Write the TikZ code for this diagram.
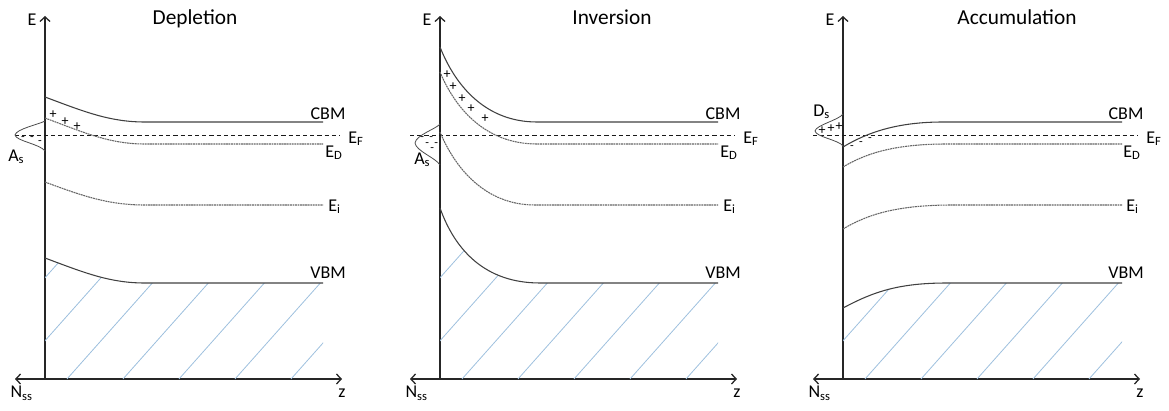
\documentclass[tikz,border=0pt]{standalone}
\usepackage{fontspec}
\setmainfont{Carlito}
\usepackage{tikz}
\usetikzlibrary{arrows.meta,positioning}
\definecolor{hatchblue}{RGB}{158,192,222}

\begin{document}
\begin{tikzpicture}[
  x=0.75pt, y=-0.75pt,
  font=\fontsize{13.5}{15}\selectfont,
  axisln/.style={line width=0.95pt, black!85},
  axarr/.style={-{Straight Barb[length=3.5pt,width=7.5pt]}},
  axboth/.style={{Straight Barb[length=3.5pt,width=7.5pt]}-{Straight Barb[length=3.5pt,width=7.5pt]}},
  band/.style={line width=0.8pt, black!75},
  dotlev/.style={line width=0.8pt, black!60, dash pattern=on 1.4pt off 0.5pt},
  fermi/.style={line width=0.75pt, black!90, dash pattern=on 3.2pt off 2.2pt},
  gauss/.style={line width=0.6pt, black!70},
  hatchln/.style={line width=0.6pt, hatchblue},
  lbl/.style={inner sep=0pt, anchor=base west},
  lblc/.style={inner sep=0pt, anchor=base},
  chg/.style={inner sep=0pt, font=\fontsize{10.5}{11}\selectfont},
  minus/.style={inner sep=0pt, font=\fontsize{9}{10}\selectfont},
  ttl/.style={inner sep=0pt, anchor=base, font=\fontsize{16}{18}\selectfont}
]
\useasboundingbox (0,0) rectangle (1169,410);

% axes, Fermi level and labels (same in all three panels)
\foreach \ax/\nm/\ttxt/\tx in {45/dep/Depletion/150, 440/inv/Inversion/172, 843/acc/Accumulation/174}{
  \coordinate (o-\nm) at (\ax,379);
  \coordinate (top-\nm) at (\ax,16);
  \coordinate (l-\nm) at (\ax-30,379);
  \coordinate (r-\nm) at (\ax+297,379);
  \draw[axisln, axarr] (o-\nm) -- (top-\nm);
  \draw[axisln, axboth] (l-\nm) -- (r-\nm);
  \node[left=3pt of top-\nm, yshift=-3pt] (e-\nm) {E};
  \node[below=2pt of l-\nm, xshift=5pt] (nss-\nm) {N\textsubscript{ss}};
  \node[below=4pt of r-\nm] (z-\nm) {z};
  \node[ttl] (ttl-\nm) at (\ax+\tx,25) {\ttxt};
  \draw[fermi] (\ax-30,135) -- (\ax+295,135);
  \node[lblc] (cbm-\nm) at (\ax+283,119) {CBM};
  \node[lbl] (ef-\nm) at (\ax+303,143) {E\textsubscript{F}};
  \node[lbl] (ed-\nm) at (\ax+280,157) {E\textsubscript{D}};
  \node[lbl] (ei-\nm) at (\ax+283,211) {E\textsubscript{i}};
  \node[lblc] (vbm-\nm) at (\ax+283,278) {VBM};
}

% depletion
\begin{scope}[shift={(45,0)}]
  \begin{scope}
    \clip (0,258) .. controls (40,273) and (65,283) .. (100,283) -- (278,283) |- (0,379) -- cycle;
    \foreach \h in {-90,-34,...,246}
      \draw[hatchln] (\h,379) -- ++(120,-135);
  \end{scope}
  \draw[band] (0,97) .. controls (40,112) and (65,122) .. (100,122) -- (278,122);
  \draw[dotlev] (0,118) .. controls (40,133) and (65,144) .. (100,144) -- (278,144);
  \draw[dotlev] (0,182) .. controls (40,197) and (65,205) .. (100,205) -- (278,205);
  \draw[band] (0,258) .. controls (40,273) and (65,283) .. (100,283) -- (278,283);
  \draw[gauss] (0,121) .. controls (-5,124) and (-29,129) .. (-30,135) .. controls (-29,141) and (-5,144) .. (0,151);
  \node[lbl] (as-dep) at (-37,161) {A\textsubscript{s}};
  \foreach \px/\py [count=\i] in {8/115, 20/122, 32/127}
    \node[chg] (pl\i-dep) at (\px,\py) {+};
  \foreach \px/\py [count=\i] in {-22/139, -13/139, -5/143}
    \node[minus] (mn\i-dep) at (\px,\py) {-};
\end{scope}

% inversion
\begin{scope}[shift={(440,0)}]
  \begin{scope}
    \clip (0,208) .. controls (15,250) and (45,283) .. (100,283) -- (278,283) |- (0,379) -- cycle;
    \foreach \h in {-90,-34,...,246}
      \draw[hatchln] (\h,379) -- ++(120,-135);
  \end{scope}
  \draw[band] (0,47) .. controls (15,85) and (45,122) .. (97,122) -- (278,122);
  \draw[dotlev] (0,72) .. controls (15,108) and (45,144) .. (97,144) -- (278,144);
  \draw[dotlev] (0,132) .. controls (15,168) and (45,205) .. (95,205) -- (278,205);
  \draw[band] (0,208) .. controls (15,250) and (45,283) .. (100,283) -- (278,283);
  \draw[gauss] (0,124) .. controls (-4,129) and (-24,135) .. (-25,143) .. controls (-24,151) and (-4,158) .. (0,165);
  \node[lbl] (as-inv) at (-26,164) {A\textsubscript{s}};
  \foreach \px/\py [count=\i] in {7/75, 13/87, 22/99, 31/109, 45/119}
    \node[chg] (pl\i-inv) at (\px,\py) {+};
  \node[minus, align=left, anchor=north west, font=\fontsize{9}{4.2}\selectfont] (mn-inv) at (-20,136.5)
    {-\hspace{4pt}-\\\hspace{3.75pt}-\hspace{4pt}-\\\hspace{7.5pt}-};
\end{scope}

% accumulation
\begin{scope}[shift={(843,0)}]
  \begin{scope}
    \clip (0,308) .. controls (30,292) and (55,283) .. (104,283) -- (279,283) |- (0,379) -- cycle;
    \foreach \h in {-90,-34,...,246}
      \draw[hatchln] (\h,379) -- ++(120,-135);
  \end{scope}
  \draw[band] (0,147) .. controls (25,132) and (55,122) .. (100,122) -- (279,122);
  \draw[dotlev] (0,167) .. controls (25,152) and (55,144) .. (104,144) -- (279,144);
  \draw[dotlev] (0,229) .. controls (25,214) and (55,205) .. (110,205) -- (279,205);
  \draw[band] (0,308) .. controls (30,292) and (55,283) .. (104,283) -- (279,283);
  \draw[gauss] (0,114) .. controls (-4,120) and (-27,125) .. (-28,131) .. controls (-27,137) and (-4,140) .. (0,146);
  \node[lbl] (ds-acc) at (-30,116) {D\textsubscript{s}};
  \foreach \px/\py [count=\i] in {-21/131, -12/129, -4/127}
    \node[chg] (pl\i-acc) at (\px,\py) {+};
  \foreach \px/\py [count=\i] in {9/148, 18/144, 27/140}
    \node[minus] (mn\i-acc) at (\px,\py) {-};
\end{scope}
\end{tikzpicture}
\end{document}
